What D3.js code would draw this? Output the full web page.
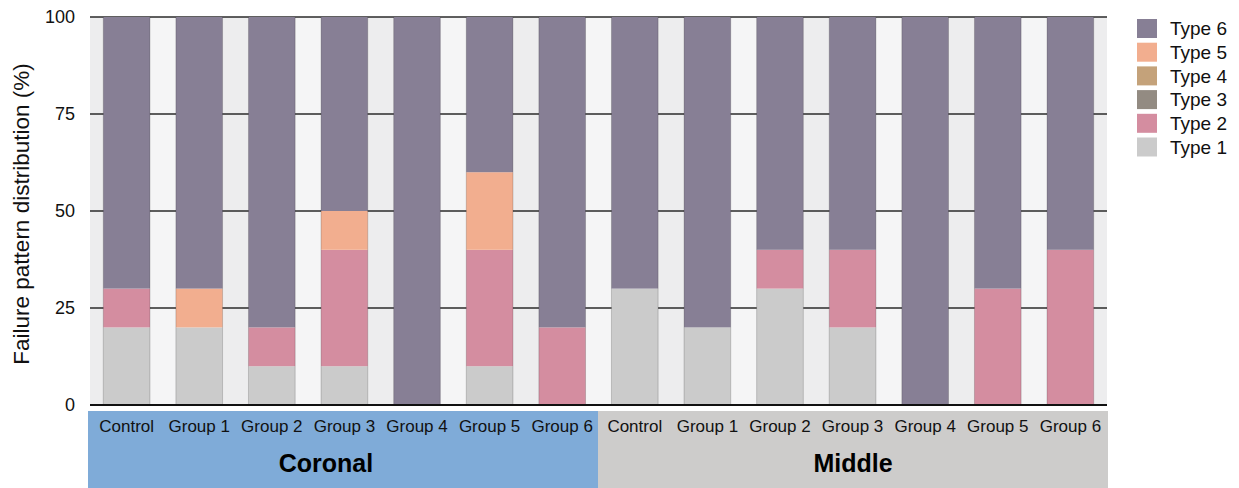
<!DOCTYPE html>
<html><head><meta charset="utf-8">
<script src="https://cdn.jsdelivr.net/npm/d3@7"></script>
<style>html,body{margin:0;padding:0;background:#fff;}svg{display:block;font-family:"Liberation Sans",Arial,Helvetica,sans-serif;}</style>
</head><body>
<svg id="chart" width="1239" height="488"></svg>
<script>
const groups = ["Coronal", "Middle"];
const categories = ["Control", "Group 1", "Group 2", "Group 3", "Group 4", "Group 5", "Group 6"];
const seriesNames = ["Type 1", "Type 2", "Type 3", "Type 4", "Type 5", "Type 6"];
const seriesColors = ["#cbcbcb", "#d48da0", "#938b82", "#c4a27a", "#f2ae8f", "#877f95"];
// values per bar (Coronal then Middle), order Type1..Type6
const type1 = [20, 20, 10, 10, 0, 10, 0,   30, 20, 30, 20, 0, 0, 0];
const type2 = [10, 0, 10, 30, 0, 30, 20,   0, 0, 10, 20, 0, 30, 40];
const type3 = [0, 0, 0, 0, 0, 0, 0,        0, 0, 0, 0, 0, 0, 0];
const type4 = [0, 0, 0, 0, 0, 0, 0,        0, 0, 0, 0, 0, 0, 0];
const type5 = [0, 10, 0, 10, 0, 20, 0,     0, 0, 0, 0, 0, 0, 0];
const type6 = [70, 70, 80, 50, 100, 40, 80, 70, 80, 60, 60, 100, 70, 60];
const yTicks = [0, 25, 50, 75, 100];

const seriesValues = [type1, type2, type3, type4, type5, type6];
const bars = [];
groups.forEach((g, gi) => categories.forEach((c, ci) => {
  const idx = gi * categories.length + ci;
  const row = { key: g + "|" + c, group: g, cat: c };
  seriesNames.forEach((s, si) => row[s] = seriesValues[si][idx]);
  bars.push(row);
}));

const svg = d3.select("#chart");
const mLeft = 90, mRight = 1107, mTop = 17, mBottom = 405;

const x = d3.scaleBand().domain(bars.map(d => d.key)).range([mLeft, mRight])
  .paddingInner(0.357).paddingOuter(0.183);
const y = d3.scaleLinear().domain([0, 100]).range([mBottom, mTop]);
const bw = x.bandwidth();

// alternating background stripes in gaps
const keys = bars.map(d => d.key);
for (let i = 0; i <= keys.length; i++) {
  const x0 = i === 0 ? mLeft : x(keys[i - 1]) + bw;
  const x1 = i === keys.length ? mRight : x(keys[i]);
  svg.append("rect").attr("x", x0).attr("y", y(100)).attr("width", x1 - x0)
    .attr("height", y(0) - y(100)).attr("fill", i % 2 === 0 ? "#ededee" : "#f5f5f6");
}

// gridlines
svg.append("g").selectAll("line").data(yTicks.filter(t => t > 0)).join("line")
  .attr("x1", mLeft).attr("x2", mRight).attr("y1", d => y(d)).attr("y2", d => y(d))
  .attr("stroke", "#2a2a2a").attr("stroke-width", 1.6);

// stacked bars
const stack = d3.stack().keys(seriesNames);
const stacked = stack(bars);
svg.append("g").selectAll("g").data(stacked).join("g")
  .attr("fill", (d, i) => seriesColors[i])
  .selectAll("rect").data(d => d).join("rect")
  .attr("x", d => x(d.data.key)).attr("width", bw)
  .attr("y", d => y(d[1])).attr("height", d => y(d[0]) - y(d[1]));

// subtle bar edges
svg.append("g").selectAll("line").data(bars.flatMap(d => [x(d.key), x(d.key) + bw])).join("line")
  .attr("x1", d => d).attr("x2", d => d).attr("y1", y(100)).attr("y2", y(0))
  .attr("stroke", "rgba(0,0,0,0.18)").attr("stroke-width", 1);

// baseline
svg.append("line").attr("x1", mLeft).attr("x2", mRight).attr("y1", y(0)).attr("y2", y(0))
  .attr("stroke", "#111").attr("stroke-width", 2);

// y axis ticks labels
const yAxis = d3.axisLeft(y).tickValues(yTicks).tickSize(0).tickPadding(0);
const ya = svg.append("g").attr("transform", `translate(75,0)`).call(yAxis);
ya.select(".domain").remove();
ya.selectAll("text").attr("font-size", 18).attr("fill", "#111")
  .attr("font-family", '"Liberation Sans",Arial,sans-serif');

svg.append("text").attr("transform", `translate(29,214) rotate(-90)`)
  .attr("text-anchor", "middle").attr("font-size", 22.5).attr("fill", "#111")
  .text("Failure pattern distribution (%)");

// bottom group boxes
const boxColors = ["#7fabd8", "#cdcccb"];
const boxTop = 411;
const bounds = [88, 598, 1108];
groups.forEach((g, gi) => {
  svg.append("rect").attr("x", bounds[gi]).attr("y", boxTop)
    .attr("width", bounds[gi + 1] - bounds[gi]).attr("height", 488 - boxTop)
    .attr("fill", boxColors[gi]);
});
// category labels
const xAxis = d3.axisBottom(x).tickFormat(k => k.split("|")[1]).tickSize(0).tickPadding(0);
const xa = svg.append("g").attr("transform", `translate(0,432)`).call(xAxis);
xa.select(".domain").remove();
xa.selectAll("text").attr("font-size", 17).attr("fill", "#111").attr("dy", "0")
  .attr("font-family", '"Liberation Sans",Arial,sans-serif');

const groupCenters = [326, 853];
groups.forEach((g, gi) => {
  svg.append("text").attr("x", groupCenters[gi]).attr("y", 472)
    .attr("text-anchor", "middle").attr("font-size", 25).attr("font-weight", "bold")
    .attr("fill", "#000").text(g);
});

// legend
const legendNames = seriesNames.slice().reverse();
const legendColors = seriesColors.slice().reverse();
const lg = svg.append("g");
legendNames.forEach((n, i) => {
  const cy = 28.5 + i * 23.7;
  lg.append("rect").attr("x", 1137).attr("y", cy - 9.5).attr("width", 20).attr("height", 19)
    .attr("fill", legendColors[i]);
  lg.append("text").attr("x", 1170).attr("y", cy).attr("dy", "0.36em")
    .attr("font-size", 19).attr("fill", "#111").text(n);
});
</script>
</body></html>
